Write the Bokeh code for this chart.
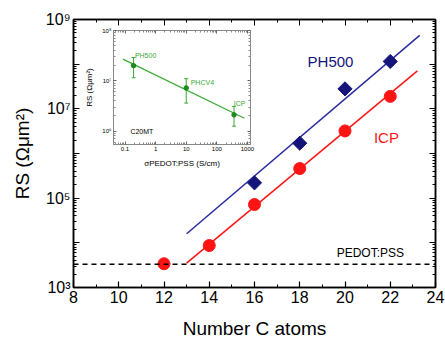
from bokeh.plotting import figure
from bokeh.models import (Range1d, FixedTicker, CustomJSTickFormatter, LinearAxis,
                          LogAxis, Span, Label, Whisker, ColumnDataSource, TeeHead)
from bokeh.layouts import column
from bokeh.embed import file_html
from bokeh.resources import INLINE

# ---------------- data ----------------
carbons_icp = [12, 14, 16, 18, 20, 22]
rs_icp = [3.4e3, 8.7e3, 7.2e4, 4.6e5, 3.2e6, 1.9e7]
carbons_ph500 = [16, 18, 20, 22]
rs_ph500 = [2.2e5, 1.7e6, 2.8e7, 1.15e8]
fit_c_ph500 = [13.0, 23.3]
fit_rs_ph500 = [1.6e4, 4.4e8]
fit_c_icp = [13.0, 23.2]
fit_rs_icp = [3.5e3, 7.1e7]
rs_pedot = 3.3e3
x_ticks = [8, 10, 12, 14, 16, 18, 20, 22, 24]
x_minor = [9, 11, 13, 15, 17, 19, 21, 23]
y_ticks = [1e3, 1e4, 1e5, 1e6, 1e7, 1e8, 1e9]

# inset
inset_names = ["PH500", "PHCV4", "ICP"]
sigma = [0.19, 10.0, 365.0]
rs_c20 = [2.0e7, 7.2e6, 2.1e6]
rs_c20_hi = [2.9e7, 1.1e7, 3.1e6]
rs_c20_lo = [1.15e7, 3.6e6, 1.25e6]
fit_sigma = [0.085, 800.0]
fit_rs_c20 = [2.7e7, 1.8e6]
inset_x_ticks = [0.1, 1, 10, 100, 1000]
inset_y_ticks = [1e6, 1e7, 1e8]

FONT = "Liberation Sans"
NAVY = "#14147a"
BLUE = "#2a2aa0"
RED = "#ff1414"
GREEN = "#3aaa35"

def minor_log(lo, hi):
    out = []
    for e in range(lo, hi):
        for k in range(2, 10):
            out.append(k * 10.0 ** e)
    return out

sup_code = """
const sup = {"0":"\u2070","1":"\u00b9","2":"\u00b2","3":"\u00b3","4":"\u2074","5":"\u2075","6":"\u2076","7":"\u2077","8":"\u2078","9":"\u2079","-":"\u207b"};
const e = Math.round(Math.log10(tick));
if (ONLYODD && (e % 2 == 0)) { return ""; }
return "10" + String(e).split("").map(c => sup[c]).join("");
"""

# ---------------- main figure ----------------
p = figure(width=445, height=340, frame_width=362, frame_height=268,
           y_axis_type="log", x_range=Range1d(8, 24), y_range=Range1d(1e3, 1e9),
           output_backend="svg", toolbar_location=None,
           min_border_left=73, min_border_right=10, min_border_top=19, min_border_bottom=53)
p.xgrid.visible = False
p.ygrid.visible = False
p.outline_line_color = "black"
p.outline_line_width = 1.5

xt = FixedTicker(ticks=x_ticks, minor_ticks=x_minor)
yt = FixedTicker(ticks=y_ticks, minor_ticks=minor_log(3, 9))

for ax in [p.xaxis[0], p.yaxis[0]]:
    ax.major_tick_in = 6
    ax.major_tick_out = 0
    ax.minor_tick_in = 3
    ax.minor_tick_out = 0
    ax.axis_line_width = 1.5
    ax.major_tick_line_width = 1.2
    ax.major_label_text_font = FONT
    ax.major_label_text_font_size = "16px"
    ax.major_label_text_color = "black"
    ax.axis_label_text_font = FONT
    ax.axis_label_text_font_size = "19px"
    ax.axis_label_text_font_style = "normal"
    ax.axis_label_text_color = "black"

p.xaxis[0].ticker = xt
p.xaxis[0].major_label_standoff = 3
p.xaxis[0].axis_label = "Number C atoms"
p.xaxis[0].axis_label_standoff = 12
p.yaxis[0].ticker = yt
p.yaxis[0].formatter = CustomJSTickFormatter(code=sup_code.replace("ONLYODD", "true"))
p.yaxis[0].major_label_standoff = 3
p.yaxis[0].axis_label = "RS (\u03a9\u03bcm\u00b2)"
p.yaxis[0].axis_label_standoff = 10

top = LinearAxis(ticker=xt, formatter=CustomJSTickFormatter(code="return '';"),
                 major_tick_in=6, major_tick_out=0,
                 minor_tick_in=3, minor_tick_out=0, axis_line_width=1.5,
                 major_label_standoff=0)
right = LogAxis(ticker=yt, formatter=CustomJSTickFormatter(code="return '';"),
                major_tick_in=6, major_tick_out=0,
                minor_tick_in=3, minor_tick_out=0, axis_line_width=1.5,
                major_label_standoff=0)
p.add_layout(top, "above")
p.add_layout(right, "right")

p.add_layout(Span(location=rs_pedot, dimension="width", line_color="black",
                  line_width=1.5, line_dash="5 4"))

p.line(fit_c_ph500, fit_rs_ph500, line_color=BLUE, line_width=1.5)
p.line(fit_c_icp, fit_rs_icp, line_color=RED, line_width=1.5)
p.scatter(carbons_ph500, rs_ph500, marker="square", size=10, angle=0.785398,
          fill_color=NAVY, line_color=NAVY)
p.scatter(carbons_icp, rs_icp, marker="circle", size=12, fill_color=RED, line_color=RED)

p.add_layout(Label(x=19.36, y=1.15e8, text="PH500", text_font=FONT, text_font_size="15px",
                   text_color=NAVY, text_align="center", text_baseline="middle"))
p.add_layout(Label(x=21.83, y=2.3e6, text="ICP", text_font=FONT, text_font_size="15px",
                   text_color=RED, text_align="center", text_baseline="middle"))
p.add_layout(Label(x=21.12, y=5.8e3, text="PEDOT:PSS", text_font=FONT, text_font_size="12px",
                   text_color="black", text_align="center", text_baseline="middle"))

# ---------------- inset figure ----------------
q = figure(width=220, height=145, x_axis_type="log", y_axis_type="log",
           x_range=Range1d(0.042, 1260), y_range=Range1d(5.4e5, 1e8),
           output_backend="svg", toolbar_location=None,
           min_border_left=30, min_border_right=4, min_border_top=5, min_border_bottom=24,
           styles={"position": "absolute", "left": "40px", "top": "25px"})
q.xgrid.visible = False
q.ygrid.visible = False
q.border_fill_alpha = 0
q.background_fill_color = "white"
q.outline_line_color = "#888888"
q.outline_line_width = 1

qxt = FixedTicker(ticks=inset_x_ticks, minor_ticks=minor_log(-2, 4))
qyt = FixedTicker(ticks=inset_y_ticks, minor_ticks=minor_log(5, 8))
for ax in [q.xaxis[0], q.yaxis[0]]:
    ax.major_tick_in = 3
    ax.major_tick_out = 0
    ax.minor_tick_in = 2
    ax.minor_tick_out = 0
    ax.axis_line_color = "#888888"
    ax.major_tick_line_color = "#666666"
    ax.minor_tick_line_color = "#888888"
    ax.major_label_text_font = FONT
    ax.major_label_text_font_size = "6px"
    ax.major_label_text_color = "black"
    ax.axis_label_text_font = FONT
    ax.axis_label_text_font_size = "8px"
    ax.axis_label_text_font_style = "normal"
    ax.axis_label_text_color = "black"
    ax.major_label_standoff = 2
    ax.axis_label_standoff = 5
q.xaxis[0].ticker = qxt
q.xaxis[0].formatter = CustomJSTickFormatter(code="return String(tick);")
q.xaxis[0].axis_label = "\u03c3PEDOT:PSS (S/cm)"
q.yaxis[0].ticker = qyt
q.yaxis[0].formatter = CustomJSTickFormatter(code=sup_code.replace("ONLYODD", "false"))
q.yaxis[0].axis_label = "RS (\u03a9\u03bcm\u00b2)"

qtop = LogAxis(ticker=qxt, formatter=CustomJSTickFormatter(code="return '';"),
               major_tick_in=3, major_tick_out=0, minor_tick_in=2, minor_tick_out=0,
               axis_line_color="#888888", major_tick_line_color="#666666",
               minor_tick_line_color="#888888", major_label_standoff=0)
qright = LogAxis(ticker=qyt, formatter=CustomJSTickFormatter(code="return '';"),
                 major_tick_in=3, major_tick_out=0, minor_tick_in=2, minor_tick_out=0,
                 axis_line_color="#888888", major_tick_line_color="#666666",
                 minor_tick_line_color="#888888", major_label_standoff=0)
q.add_layout(qtop, "above")
q.add_layout(qright, "right")

src = ColumnDataSource(data=dict(x=sigma, y=rs_c20, hi=rs_c20_hi, lo=rs_c20_lo, name=inset_names))
q.line(fit_sigma, fit_rs_c20, line_color=GREEN, line_width=1.2)
q.add_layout(Whisker(source=src, base="x", upper="hi", lower="lo", dimension="height",
                     line_color=GREEN, line_width=1,
                     upper_head=TeeHead(size=4, line_color=GREEN, line_width=1),
                     lower_head=TeeHead(size=4, line_color=GREEN, line_width=1)))
q.scatter("x", "y", source=src, size=4.5, fill_color="#1e8a1e", line_color="#1e8a1e")

q.add_layout(Label(x=0.21, y=3.2e7, text="PH500", text_font=FONT, text_font_size="7px",
                   text_color=GREEN, text_baseline="middle"))
q.add_layout(Label(x=14.0, y=9.4e6, text="PHCV4", text_font=FONT, text_font_size="7px",
                   text_color=GREEN, text_baseline="middle"))
q.add_layout(Label(x=360.0, y=3.5e6, text="ICP", text_font=FONT, text_font_size="7px",
                   text_color=GREEN, text_baseline="middle"))
q.add_layout(Label(x=0.15, y=9.8e5, text="C20MT", text_font=FONT, text_font_size="7px",
                   text_color="black", text_baseline="middle"))

layout = column(p, q, spacing=0)
open("out.html", "w").write(file_html(layout, INLINE))
